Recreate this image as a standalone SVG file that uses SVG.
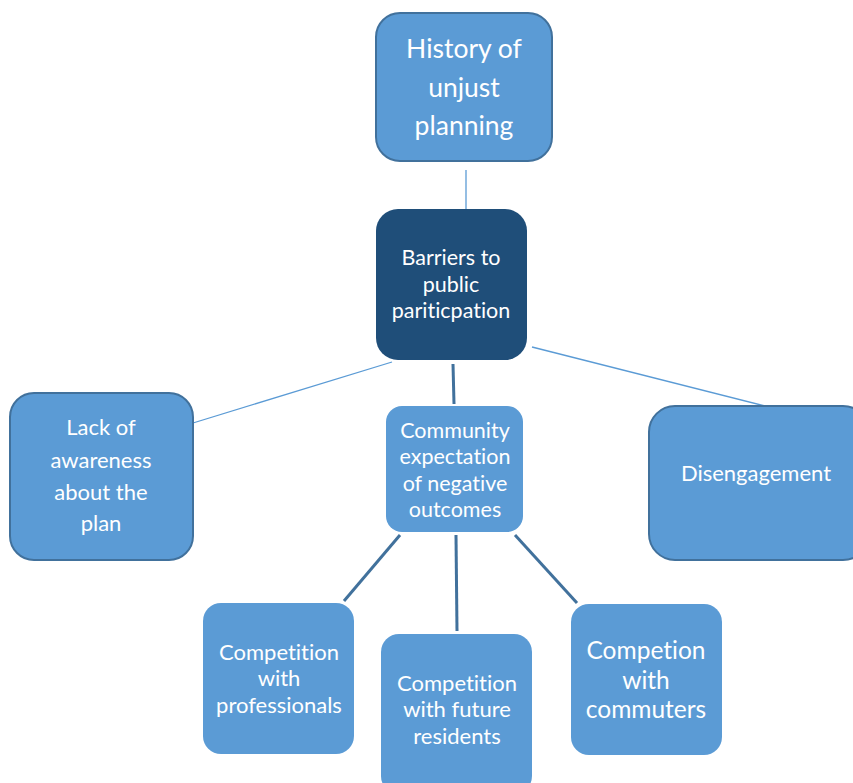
<svg xmlns="http://www.w3.org/2000/svg" width="853" height="783" viewBox="0 0 853 783">
<style>
.box{fill:#5B9BD5}
.bs{stroke:#41719C;stroke-width:2}
.dark{fill:#1F4E79}
.t{font-family:Lato,"Open Sans","Liberation Sans",sans-serif;fill:#ffffff;text-anchor:middle;font-variant-ligatures:none;font-feature-settings:"liga" 0,"dlig" 0}
.thin{stroke:#5B9BD5;stroke-width:1.3;fill:none}
.thick{stroke:#41719C;stroke-width:3;fill:none}
</style>
<rect width="853" height="783" fill="#ffffff"/>
<g id="connectors">
<line class="thin" x1="466" y1="170" x2="466" y2="212"/>
<line class="thin" x1="193" y1="423" x2="392" y2="362"/>
<line class="thin" x1="532" y1="347" x2="765" y2="406"/>
<line class="thick" x1="453" y1="364" x2="454" y2="404"/>
<line class="thick" x1="400" y1="535" x2="344" y2="601"/>
<line class="thick" x1="456" y1="535" x2="457" y2="631"/>
<line class="thick" x1="515" y1="535" x2="577" y2="603"/>
</g>
<g id="history">
<rect class="box bs" x="376" y="13" width="176" height="148" rx="24"/>
<text class="t" font-size="26.5"><tspan x="464" y="58">History of</tspan><tspan x="464" y="97">unjust</tspan><tspan x="464" y="135">planning</tspan></text>
</g>
<g id="barriers">
<rect class="dark" x="376" y="209" width="151" height="151" rx="22"/>
<text class="t" font-size="21.5"><tspan x="451" y="265">Barriers to</tspan><tspan x="451" y="292">public</tspan><tspan x="451" y="318">pariticpation</tspan></text>
</g>
<g id="lack">
<rect class="box bs" x="10" y="393" width="183" height="167" rx="24"/>
<text class="t" font-size="22"><tspan x="101" y="435">Lack of</tspan><tspan x="101" y="468">awareness</tspan><tspan x="101" y="500">about the</tspan><tspan x="101" y="531">plan</tspan></text>
</g>
<g id="community">
<rect class="box" x="386" y="406" width="137" height="126" rx="16"/>
<text class="t" font-size="21.5"><tspan x="455" y="438">Community</tspan><tspan x="455" y="464">expectation</tspan><tspan x="455" y="491">of negative</tspan><tspan x="455" y="517">outcomes</tspan></text>
</g>
<g id="disengagement">
<rect class="box bs" x="649" y="406" width="220" height="154" rx="26"/>
<text class="t" font-size="22"><tspan x="756" y="481">Disengagement</tspan></text>
</g>
<g id="professionals">
<rect class="box" x="203" y="603" width="151" height="151" rx="18"/>
<text class="t" font-size="22"><tspan x="279" y="660">Competition</tspan><tspan x="279" y="686">with</tspan><tspan x="279" y="713">professionals</tspan></text>
</g>
<g id="future">
<rect class="box" x="381" y="634" width="151" height="160" rx="18"/>
<text class="t" font-size="22"><tspan x="457" y="691">Competition</tspan><tspan x="457" y="717">with future</tspan><tspan x="457" y="744">residents</tspan></text>
</g>
<g id="commuters">
<rect class="box" x="571" y="604" width="151" height="151" rx="18"/>
<text class="t" font-size="24.5"><tspan x="646" y="659">Competion</tspan><tspan x="646" y="689">with</tspan><tspan x="646" y="718">commuters</tspan></text>
</g>
</svg>
